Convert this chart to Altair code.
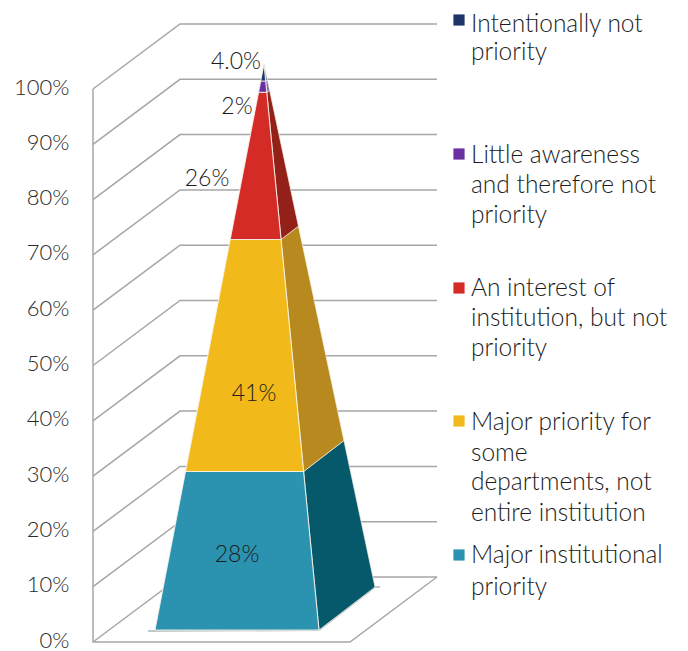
import altair as alt
import pandas as pd

# ---- values ----
categories = ["Major institutional priority",
              "Major priority for some departments, not entire institution",
              "An interest of institution, but not priority",
              "Little awareness and therefore not priority",
              "Intentionally not priority"]
shares = [28, 41, 26, 2, 3]
labels = ["28%", "41%", "26%", "2%", "4.0%"]
front_colors = ["#2B93B0", "#F2B91A", "#D42B27", "#6A2FA0", "#1F3468"]
side_colors = ["#05596B", "#B8891F", "#94201A", "#8465BC", "#5F6F9A"]
ticks = list(range(0, 101, 10))
legend_lines = [
    ["Intentionally not", "priority"],
    ["Little awareness", "and therefore not", "priority"],
    ["An interest of", "institution, but not", "priority"],
    ["Major priority for", "some", "departments, not", "entire institution"],
    ["Major institutional", "priority"],
]
legend_colors = ["#1F3468", "#6A2FA0", "#D42B27", "#F2B91A", "#2B93B0"]

# ---- layout of the pseudo 3-D scene ----
FONT = "Lato"
TEXT = "#1c1c1c"
PAD_L, PAD_T = 85, 16
W, H = 587, 618
PX_PER_PCT = 5.53
YMAX = H / PX_PER_PCT
DEPTH_X, DEPTH_Y = 87, 65 / PX_PER_PCT
WALL_END = 344


def py(img_y):
    return (642 - img_y) / PX_PER_PCT


def px(img_x):
    return img_x - 93


xs = alt.Scale(domain=[0, W], range=[0, W], nice=False, zero=False)
ys = alt.Scale(domain=[0, YMAX], range=[H, 0], nice=False, zero=False)
y_axis = alt.Axis(
    values=ticks, labelExpr="datum.value + '%'", domain=False, ticks=False, grid=False,
    title=None, labelFont=FONT, labelFontSize=22, labelFontWeight=300, labelColor="#2a2a2a",
    labelPadding=24, labelOverlap=False, labelFlush=False, labelBound=False, labelOffset=-2)


def poly(points, **mark):
    df = pd.DataFrame(points, columns=["x", "y"]).assign(i=lambda d: range(len(d)))
    return alt.Chart(df).mark_line(**mark).encode(
        x=alt.X("x:Q", scale=xs, axis=None),
        y=alt.Y("y:Q", scale=ys, axis=y_axis),
        order="i:Q",
    )


def text(img_x, img_y, s, align="left", size=20):
    return alt.Chart(pd.DataFrame({"t": [s]})).mark_text(
        font=FONT, fontSize=size, fontWeight=300, align=align, baseline="middle", color=TEXT
    ).encode(text="t:N", x=alt.value(img_x - 93), y=alt.value(img_y - 24))


layers = []

GRID = dict(color="#A6A6A6", strokeWidth=1.5)
# walls' grid lines
for v in ticks:
    layers.append(poly([(0, v), (DEPTH_X, v + DEPTH_Y), (WALL_END, v + DEPTH_Y)], **GRID))
# floor and front axis
layers.append(poly([(WALL_END, DEPTH_Y), (WALL_END - DEPTH_X, 0), (0, 0), (0, 100)], **GRID))

# pyramid geometry: each edge runs straight from its base corner to the apex
apex = (px(264), py(64))
base_left = (px(155), py(630))
base_right = (px(319), py(630))
base_back = (px(375), py(587))


def along(corner, t):
    return (corner[0] + (apex[0] - corner[0]) * t, corner[1] + (apex[1] - corner[1]) * t)


# floor shadow
layers.append(poly([(px(148), py(631)), base_right, base_back, (px(380), py(587))], color="#BFC7CA", strokeWidth=2))

total = sum(shares)
cum = 0
for share, fc, sc in zip(shares, front_colors, side_colors):
    t0, t1 = cum / total, (cum + share) / total
    cum += share
    front = [along(base_left, t0), along(base_right, t0), along(base_right, t1), along(base_left, t1), along(base_left, t0)]
    side = [along(base_right, t0), along(base_back, t0), along(base_back, t1), along(base_right, t1), along(base_right, t0)]
    layers.append(poly(side, fill=sc, color="#F4F1E4", strokeWidth=0.9, strokeOpacity=0.75))
    layers.append(poly(front, fill=fc, color="#F7F4EA", strokeWidth=1.1, strokeOpacity=0.85))

# data labels
for (lx, ly), s in zip([(237, 555), (254, 394), (207, 179), (237, 107), (236, 62)], labels):
    layers.append(text(lx, ly, s, align="center", size=23))

# legend
square_y = [20, 154, 288, 421, 555]
line_y = [[25, 53], [156, 186, 216], [289, 319, 349], [423, 454, 483, 514], [556, 588]]
for lines, col, sy, ly in zip(legend_lines, legend_colors, square_y, line_y):
    layers.append(
        alt.Chart(pd.DataFrame({"c": [col]})).mark_square(size=125, color=col, opacity=1).encode(
            x=alt.value(459 - 93), y=alt.value(sy - 24))
    )
    for s, y in zip(lines, ly):
        layers.append(text(471, y, s, size=24.5))

chart = alt.layer(*layers).properties(
    width=W, height=H,
    autosize=alt.AutoSizeParams(type="none", contains="content"),
    padding={"left": PAD_L, "top": PAD_T, "right": 0, "bottom": 9},
    background="white",
).configure_view(stroke=None)

chart.save("out.html", embed_options={"renderer": "svg", "actions": False})
